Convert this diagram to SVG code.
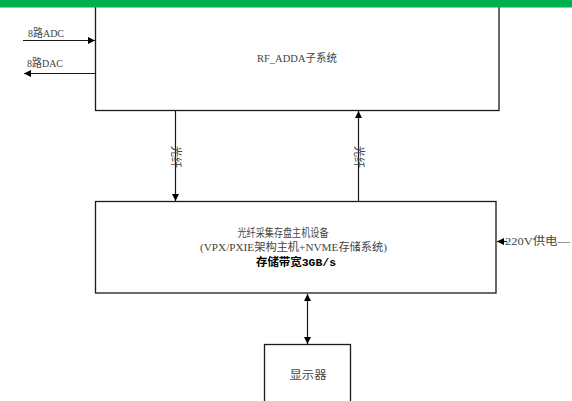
<svg xmlns="http://www.w3.org/2000/svg" width="572" height="401" viewBox="0 0 572 401">
<defs>
<style>
.box{fill:#fff;stroke:#1a1a1a;stroke-width:1.3}
.ln{stroke:#1a1a1a;stroke-width:1.2;fill:none}
.t{font-family:"Liberation Serif","Noto Sans CJK SC",serif;font-size:11px;fill:#444}
.b{font-family:"Liberation Mono","Noto Sans CJK SC",monospace;font-size:11px;font-weight:bold;fill:#000}
</style>
<marker id="ah" viewBox="0 0 10 10" refX="10" refY="5" markerWidth="10" markerHeight="7" markerUnits="userSpaceOnUse" orient="auto-start-reverse">
<path d="M0,0 L10,5 L0,10 z" fill="#000"/>
</marker>
</defs>
<g id="rf_adda">
<rect class="box" x="95.5" y="-5" width="403.5" height="115.5"/>
<text class="t" x="297" y="62" text-anchor="middle" textLength="80" lengthAdjust="spacingAndGlyphs">RF_ADDA子系统</text>
</g>
<rect x="0" y="0" width="572" height="7.5" fill="#00b050"/>
<g id="host">
<rect class="box" x="95.5" y="201.5" width="400.5" height="91.5"/>
<text class="t" x="283" y="237" text-anchor="middle" textLength="91" lengthAdjust="spacingAndGlyphs">光纤采集存盘主机设备</text>
<text class="t" x="293.5" y="251" text-anchor="middle" textLength="187" lengthAdjust="spacingAndGlyphs">(VPX/PXIE架构主机+NVME存储系统)</text>
<text class="b" x="296" y="266" text-anchor="middle" textLength="80" lengthAdjust="spacingAndGlyphs">存储带宽3GB/s</text>
</g>
<g id="display">
<rect class="box" x="264.5" y="344.5" width="86" height="70"/>
<text class="t" x="308" y="379" text-anchor="middle" textLength="37" lengthAdjust="spacingAndGlyphs">显示器</text>
</g>
<g id="connectors">
<line class="ln" x1="23" y1="40.5" x2="95" y2="40.5" marker-end="url(#ah)"/>
<text class="t" x="28" y="37" textLength="36" lengthAdjust="spacingAndGlyphs">8路ADC</text>
<line class="ln" x1="95" y1="73.5" x2="24" y2="73.5" marker-end="url(#ah)"/>
<text class="t" x="27" y="67" textLength="36" lengthAdjust="spacingAndGlyphs">8路DAC</text>
<line class="ln" x1="175.5" y1="111" x2="175.5" y2="201" marker-end="url(#ah)"/>
<text class="t" transform="translate(171.5,157) rotate(90)" x="0" y="0" text-anchor="middle" textLength="22" lengthAdjust="spacingAndGlyphs">光纤</text>
<line class="ln" x1="358.5" y1="201" x2="358.5" y2="111" marker-end="url(#ah)"/>
<text class="t" transform="translate(354.5,157) rotate(90)" x="0" y="0" text-anchor="middle" textLength="22" lengthAdjust="spacingAndGlyphs">光纤</text>
<line class="ln" x1="307.5" y1="294" x2="307.5" y2="344" marker-start="url(#ah)" marker-end="url(#ah)"/>
<line class="ln" x1="507" y1="241.5" x2="497" y2="241.5" marker-end="url(#ah)"/>
<text class="t" x="505" y="245" textLength="65" lengthAdjust="spacingAndGlyphs">220V供电—</text>
</g>
</svg>
